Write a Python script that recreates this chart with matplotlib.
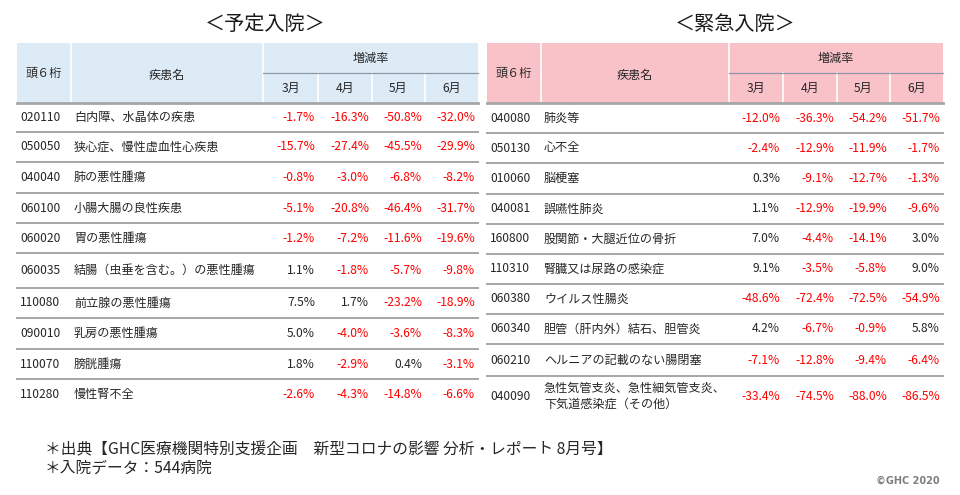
import matplotlib
matplotlib.use("Agg")
import matplotlib.pyplot as plt
from matplotlib.patches import Rectangle

plt.rcParams['font.family'] = ['Noto Sans CJK JP', 'DejaVu Sans']

# ---------------- data ----------------
months = ["3月", "4月", "5月", "6月"]

plan_codes = ["020110", "050050", "040040", "060100", "060020",
              "060035", "110080", "090010", "110070", "110280"]
plan_names = ["白内障、水晶体の疾患", "狭心症、慢性虚血性心疾患", "肺の悪性腫瘍",
              "小腸大腸の良性疾患", "胃の悪性腫瘍", "結腸（虫垂を含む。）の悪性腫瘍",
              "前立腺の悪性腫瘍", "乳房の悪性腫瘍", "膀胱腫瘍", "慢性腎不全"]
plan_mar = [-1.7, -15.7, -0.8, -5.1, -1.2, 1.1, 7.5, 5.0, 1.8, -2.6]
plan_apr = [-16.3, -27.4, -3.0, -20.8, -7.2, -1.8, 1.7, -4.0, -2.9, -4.3]
plan_may = [-50.8, -45.5, -6.8, -46.4, -11.6, -5.7, -23.2, -3.6, 0.4, -14.8]
plan_jun = [-32.0, -29.9, -8.2, -31.7, -19.6, -9.8, -18.9, -8.3, -3.1, -6.6]

emg_codes = ["040080", "050130", "010060", "040081", "160800",
             "110310", "060380", "060340", "060210", "040090"]
emg_names = ["肺炎等", "心不全", "脳梗塞", "誤嚥性肺炎", "股関節・大腿近位の骨折",
             "腎臓又は尿路の感染症", "ウイルス性腸炎", "胆管（肝内外）結石、胆管炎",
             "ヘルニアの記載のない腸閉塞",
             "急性気管支炎、急性細気管支炎、\n下気道感染症（その他）"]
emg_mar = [-12.0, -2.4, 0.3, 1.1, 7.0, 9.1, -48.6, 4.2, -7.1, -33.4]
emg_apr = [-36.3, -12.9, -9.1, -12.9, -4.4, -3.5, -72.4, -6.7, -12.8, -74.5]
emg_may = [-54.2, -11.9, -12.7, -19.9, -14.1, -5.8, -72.5, -0.9, -9.4, -88.0]
emg_jun = [-51.7, -1.7, -1.3, -9.6, 3.0, 9.0, -54.9, 5.8, -6.4, -86.5]

# ---------------- figure ----------------
W, H = 960, 495
fig = plt.figure(figsize=(W / 100, H / 100), dpi=100)
ax = fig.add_axes([0, 0, 1, 1])
ax.set_xlim(0, W)
ax.set_ylim(H, 0)
ax.axis('off')

TXT = '#262626'
RED = '#FF0000'
GRID = '#A6A6A6'
FS = 8.7


def draw_table(cols, header_color, title, title_x, codes, names, vals,
               row_heights):
    # cols: [left, code_end, name_end, m1_end, m2_end, m3_end, m4_end]
    top, mid, hb = 43, 72.5, 103
    left, right = cols[0], cols[-1]
    ax.add_patch(Rectangle((left, top), right - left, hb - top,
                           facecolor=header_color, edgecolor='none'))
    for xc in cols[1:3]:
        ax.plot([xc, xc], [top, hb], color='white', lw=1.2)
    for xc in cols[3:-1]:
        ax.plot([xc, xc], [mid, hb], color='white', lw=1.2)
    ax.plot([cols[2], right], [mid, mid], color='#8E98A8', lw=0.9)
    ax.plot([left, right], [hb, hb], color=GRID, lw=2.0)

    ax.text(title_x, 24, title, ha='center', va='center', fontsize=14.5,
            color='#1a1a1a')
    ax.text((cols[0] + cols[1]) / 2, 73, "頭６桁", ha='center', va='center',
            fontsize=FS, color=TXT)
    ax.text((cols[1] + cols[2]) / 2, 75, "疾患名", ha='center', va='center',
            fontsize=FS, color=TXT)
    ax.text((cols[2] + right) / 2, 58, "増減率", ha='center', va='center',
            fontsize=FS, color=TXT)
    for i, m in enumerate(months):
        ax.text((cols[2 + i] + cols[3 + i]) / 2, 88, m, ha='center',
                va='center', fontsize=FS, color=TXT)

    y = hb
    n = len(codes)
    for r in range(n):
        h = row_heights[r]
        yc = y + h / 2
        ax.text(left + 3, yc, codes[r], ha='left', va='center',
                fontsize=FS, color=TXT)
        ax.text(cols[1] + 3, yc, names[r], ha='left', va='center',
                fontsize=FS, color=TXT, linespacing=1.25)
        for j in range(4):
            v = vals[j][r]
            ax.text(cols[3 + j] - 3, yc, f"{v:.1f}%", ha='right', va='center',
                    fontsize=FS, color=RED if v < 0 else TXT)
        y += h
        if r < n - 1:
            ax.plot([left, right], [y, y], color=GRID, lw=1.4)


draw_table([17, 71, 263, 318, 372, 425, 478], '#DDEBF7', "＜予定入院＞", 265,
           plan_codes, plan_names, [plan_mar, plan_apr, plan_may, plan_jun],
           [29, 30, 31, 30, 30, 35, 30, 31, 30, 30])
draw_table([487, 541, 729, 783, 837, 890, 943], '#F9C1C8', "＜緊急入院＞", 735,
           emg_codes, emg_names, [emg_mar, emg_apr, emg_may, emg_jun],
           [30, 30, 31, 30, 30, 30, 30, 30, 32, 40])

ax.text(45, 450, "＊出典【GHC医療機関特別支援企画　新型コロナの影響 分析・レポート 8月号】",
        ha='left', va='center', fontsize=11.3, color=TXT)
ax.text(45, 468, "＊入院データ：544病院", ha='left', va='center',
        fontsize=11.3, color=TXT)
ax.text(940, 481, "©GHC 2020", ha='right', va='center', fontsize=7,
        color='#7F7F7F', fontweight='bold', family=['DejaVu Sans'])

fig.savefig("out.png", dpi=100)
